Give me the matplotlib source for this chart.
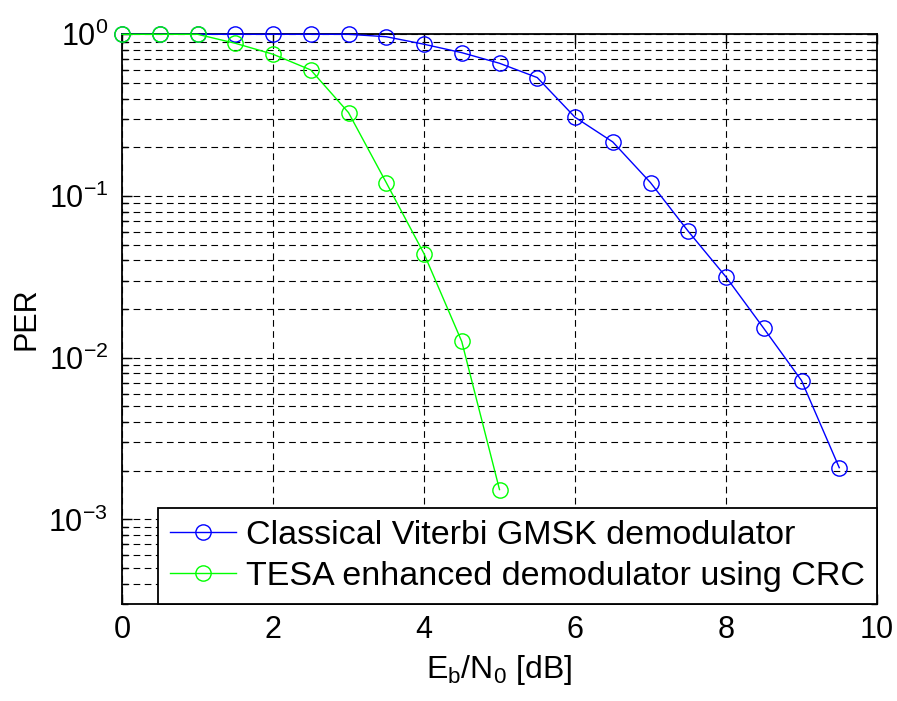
import matplotlib
matplotlib.use('Agg')
import matplotlib.pyplot as plt
from matplotlib.ticker import LogLocator, NullFormatter, FixedLocator

plt.rcParams['font.family'] = ['Liberation Sans', 'DejaVu Sans']
plt.rcParams['mathtext.fontset'] = 'custom'
plt.rcParams['mathtext.rm'] = 'Liberation Sans'
plt.rcParams['mathtext.it'] = 'Liberation Sans:italic'

# Eb/N0 in dB
ebn0 = [0, 0.5, 1, 1.5, 2, 2.5, 3, 3.5, 4, 4.5, 5, 5.5, 6, 6.5, 7, 7.5, 8, 8.5, 9, 9.5]
per_viterbi = [1, 1, 1, 1, 1, 1, 1, 0.966, 0.868, 0.77, 0.662, 0.54, 0.307,
               0.216, 0.121, 0.0605, 0.0316, 0.0152, 0.00723, 0.00209]

ebn0_tesa = [0, 0.5, 1, 1.5, 2, 2.5, 3, 3.5, 4, 4.5, 5]
per_tesa = [1, 1, 1, 0.88, 0.753, 0.602, 0.328, 0.121, 0.044, 0.0126, 0.00153]

labels = ['Classical Viterbi GMSK demodulator', 'TESA enhanced demodulator using CRC']

fig = plt.figure(figsize=(8.97, 7.01), dpi=100)
ax = fig.add_axes([122 / 897, 1 - 604 / 701, 755 / 897, 569.7 / 701])

ax.semilogy(ebn0, per_viterbi, '-o', color='#0000ff', lw=1, ms=11, mfc='none',
            mew=1, label=labels[0], clip_on=False, zorder=3)
ax.semilogy(ebn0_tesa, per_tesa, '-o', color='#00ff00', lw=1, ms=11, mfc='none',
            mew=1, label=labels[1], clip_on=False, zorder=3)

ax.set_xlim(0, 10)
ax.set_ylim(3e-4, 1)
ax.xaxis.set_major_locator(FixedLocator([0, 2, 4, 6, 8, 10]))
ax.yaxis.set_major_locator(LogLocator(base=10, numticks=10))
ax.yaxis.set_minor_locator(LogLocator(base=10, subs=range(2, 10), numticks=20))
ax.yaxis.set_minor_formatter(NullFormatter())

ax.grid(True, which='major', color='k', ls=(0, (6, 4)), lw=0.8)
ax.grid(True, which='minor', axis='y', color='k', ls=(0, (6, 4)), lw=0.8)

ax.tick_params(which='both', direction='in', top=True, right=True, labelsize=22)
ax.tick_params(which='major', length=7, width=1)
ax.tick_params(which='minor', length=4, width=1)
ax.tick_params(axis='y', which='major', pad=10)
ax.tick_params(axis='x', which='major', pad=8)
for s in ax.spines.values():
    s.set_linewidth(1.3)

ax.set_xlabel(r'$\mathregular{E_b/N_0}$ [dB]', fontsize=23, labelpad=6)
ax.set_ylabel('PER', fontsize=22, labelpad=5)

leg = ax.legend(loc='lower right', fontsize=24.5, borderaxespad=0, fancybox=False,
                framealpha=1, edgecolor='k', handlelength=1.95, handletextpad=0.3,
                labelspacing=0.3, borderpad=0.35)
leg.get_frame().set_linewidth(1.3)

fig.savefig('out.png', dpi=100)
